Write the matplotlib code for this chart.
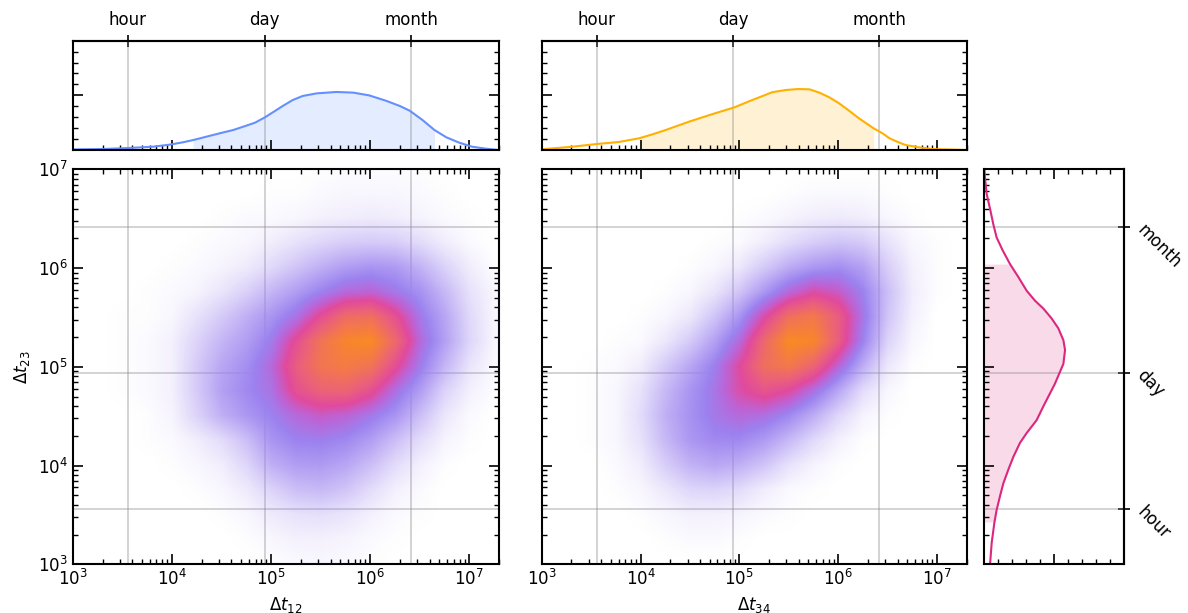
import numpy as np
import matplotlib
matplotlib.use("Agg")
import matplotlib.pyplot as plt
from matplotlib.colors import LinearSegmentedColormap
from matplotlib.ticker import MultipleLocator, NullLocator

# characteristic time scales (seconds)
HOUR, DAY, MONTH = 3600.0, 86400.0, 2592000.0
SCALE_TICKS = [HOUR, DAY, MONTH]
SCALE_LABELS = ["hour", "day", "month"]

XLIM = (1e3, 2e7)
YLIM = (1e3, 1e7)

# joint density grid, log10 nodes (cell centres)
GRID_LOG_X = [3.0, 3.25, 3.5, 3.75, 4.0, 4.25, 4.5, 4.75, 5.0, 5.25,
              5.5, 5.75, 6.0, 6.25, 6.5, 6.75, 7.0, 7.25]
GRID_LOG_Y = [7.0, 6.75, 6.5, 6.25, 6.0, 5.75, 5.5, 5.25, 5.0, 4.75,
              4.5, 4.25, 4.0, 3.75, 3.5, 3.25, 3.0]

# density of (dt12, dt23), rows top -> bottom
DENS_12_23 = [
    [0, 0, 0, 0, 0, 0, 0, 0, 0, 0, .01, .01, .01, .01, .01, 0, 0, 0],
    [0, 0, 0, 0, 0, 0, 0, 0, .01, .01, .02, .03, .03, .03, .02, .01, 0, 0],
    [0, 0, 0, 0, 0, 0, .01, .02, .02, .03, .05, .06, .07, .06, .04, .02, .01, 0],
    [0, 0, 0, 0, 0, .01, .02, .03, .06, .10, .14, .17, .18, .17, .12, .06, .02, 0],
    [0, 0, 0, 0, .01, .02, .04, .07, .13, .20, .27, .33, .36, .34, .26, .15, .06, .01],
    [0, 0, 0, .01, .02, .04, .09, .16, .25, .33, .42, .50, .52, .45, .37, .24, .10, .03],
    [0, 0, .01, .01, .03, .10, .18, .27, .36, .47, .65, .80, .82, .66, .45, .30, .13, .03],
    [0, 0, .01, .02, .05, .15, .25, .33, .44, .65, .85, .97, 1.0, .78, .50, .32, .14, .03],
    [0, 0, .01, .02, .05, .18, .30, .38, .50, .72, .86, .90, .85, .65, .44, .25, .09, .02],
    [0, 0, .01, .02, .05, .18, .32, .40, .47, .66, .75, .76, .66, .48, .33, .15, .05, .01],
    [0, 0, 0, .01, .04, .15, .27, .35, .42, .50, .55, .52, .45, .36, .22, .08, .02, 0],
    [0, 0, 0, .01, .02, .06, .12, .22, .36, .42, .43, .40, .33, .22, .12, .04, .01, 0],
    [0, 0, 0, 0, .01, .03, .06, .14, .27, .33, .34, .30, .22, .12, .05, .01, 0, 0],
    [0, 0, 0, 0, 0, .01, .03, .07, .15, .22, .24, .20, .12, .05, .02, 0, 0, 0],
    [0, 0, 0, 0, 0, 0, .01, .03, .07, .10, .11, .09, .05, .02, .01, 0, 0, 0],
    [0, 0, 0, 0, 0, 0, 0, .01, .03, .05, .05, .04, .02, .01, 0, 0, 0, 0],
    [0, 0, 0, 0, 0, 0, 0, 0, .01, .02, .03, .02, .01, 0, 0, 0, 0, 0],
]

# density of (dt34, dt23), rows top -> bottom
DENS_34_23 = [
    [0, 0, 0, 0, 0, 0, 0, 0, 0, 0, 0, 0, 0, 0, 0, 0, 0, 0],
    [0, 0, 0, 0, 0, 0, 0, 0, 0, 0, .01, .02, .02, .02, .01, 0, 0, 0],
    [0, 0, 0, 0, 0, 0, 0, 0, .01, .02, .04, .06, .07, .06, .03, .01, 0, 0],
    [0, 0, 0, 0, 0, 0, 0, .01, .02, .06, .12, .17, .20, .18, .10, .03, .01, 0],
    [0, 0, 0, 0, 0, 0, .01, .03, .08, .18, .28, .35, .38, .32, .17, .05, .01, 0],
    [0, 0, 0, 0, 0, .01, .03, .09, .20, .35, .50, .60, .55, .42, .22, .06, .01, 0],
    [0, 0, 0, 0, .01, .03, .08, .20, .36, .60, .82, .88, .72, .46, .20, .05, 0, 0],
    [0, 0, 0, .01, .02, .08, .18, .32, .50, .78, 1.0, .97, .72, .42, .15, .03, 0, 0],
    [0, 0, .01, .02, .06, .18, .30, .43, .62, .82, .88, .76, .52, .28, .08, .01, 0, 0],
    [0, 0, .01, .03, .10, .24, .36, .46, .60, .68, .62, .48, .30, .12, .03, 0, 0, 0],
    [0, 0, .01, .03, .12, .27, .37, .45, .50, .48, .40, .28, .14, .04, .01, 0, 0, 0],
    [0, 0, .01, .03, .10, .24, .35, .40, .40, .34, .24, .13, .05, .01, 0, 0, 0, 0],
    [0, 0, 0, .02, .06, .17, .26, .30, .27, .20, .10, .04, .01, 0, 0, 0, 0, 0],
    [0, 0, 0, .01, .03, .08, .14, .15, .12, .06, .02, .01, 0, 0, 0, 0, 0, 0],
    [0, 0, 0, 0, .01, .03, .05, .05, .04, .02, .01, 0, 0, 0, 0, 0, 0, 0],
    [0, 0, 0, 0, 0, .01, .02, .02, .01, 0, 0, 0, 0, 0, 0, 0, 0, 0],
    [0, 0, 0, 0, 0, 0, 0, 0, 0, 0, 0, 0, 0, 0, 0, 0, 0, 0],
]

# marginal densities per log10 unit
KDE12_LOG = [2.97, 3.31, 3.56, 3.81, 3.98, 4.11, 4.215, 4.35, 4.48, 4.62,
             4.72, 4.84, 4.94, 5.02, 5.12, 5.22, 5.32, 5.46, 5.66, 5.83,
             5.99, 6.16, 6.30, 6.40, 6.53, 6.65, 6.77, 6.90, 7.03, 7.17, 7.30]
KDE12_DENS = [0.005, 0.009, 0.018, 0.030, 0.049, 0.070, 0.091, 0.122, 0.152, 0.183,
              0.213, 0.250, 0.299, 0.345, 0.403, 0.457, 0.494, 0.518, 0.531, 0.525,
              0.500, 0.451, 0.403, 0.360, 0.274, 0.183, 0.116, 0.067, 0.030, 0.012, 0.0]
KDE12_BAND = (4.215, 6.65)

KDE34_LOG = [2.97, 3.31, 3.56, 3.78, 3.985, 4.12, 4.255, 4.49, 4.73, 4.95,
             5.13, 5.27, 5.33, 5.47, 5.60, 5.71, 5.81, 5.91, 6.01, 6.11,
             6.21, 6.36, 6.45, 6.52, 6.62, 6.68, 6.82, 6.95, 7.31]
KDE34_DENS = [0.004, 0.030, 0.055, 0.073, 0.107, 0.143, 0.183, 0.259, 0.329, 0.390,
              0.457, 0.506, 0.528, 0.549, 0.558, 0.555, 0.525, 0.482, 0.427, 0.360,
              0.290, 0.198, 0.152, 0.107, 0.067, 0.046, 0.024, 0.009, 0.0]
KDE34_BAND = (3.985, 6.36)

KDE23_LOG = [2.95, 3.0, 3.22, 3.39, 3.43, 3.55, 3.69, 3.82, 3.96, 4.09, 4.23,
             4.33, 4.46, 4.60, 4.73, 4.83, 4.95, 5.03, 5.17, 5.27, 5.39,
             5.49, 5.59, 5.67, 5.77, 5.91, 6.04, 6.18, 6.31, 6.44, 6.60,
             6.75, 6.91, 7.0]
KDE23_DENS = [0.040, 0.043, 0.055, 0.071, 0.075, 0.090, 0.114, 0.138, 0.174, 0.210, 0.257,
              0.305, 0.376, 0.424, 0.471, 0.507, 0.543, 0.567, 0.579, 0.567, 0.531,
              0.483, 0.424, 0.364, 0.305, 0.245, 0.186, 0.133, 0.090, 0.067, 0.043,
              0.019, 0.007, 0.003]
KDE23_BAND = (3.43, 6.04)

C_BLUE, C_GOLD, C_PINK = "#648FFF", "#FFB000", "#DC267F"

# transparent -> purple -> magenta -> salmon -> orange
cmap = LinearSegmentedColormap.from_list("joint", [
    (0.00, (0.62, 0.52, 0.94, 0.0)),
    (0.42, (0.61, 0.51, 0.94, 1.0)),
    (0.52, (0.74, 0.39, 0.84, 1.0)),
    (0.62, (0.88, 0.29, 0.62, 1.0)),
    (0.74, (0.92, 0.38, 0.48, 1.0)),
    (0.86, (0.95, 0.46, 0.32, 1.0)),
    (1.00, (0.98, 0.54, 0.14, 1.0)),
])

plt.rcParams.update({
    "font.family": "DejaVu Sans",
    "font.size": 12,
    "axes.linewidth": 1.5,
    "xtick.major.size": 7.5, "ytick.major.size": 7.5,
    "xtick.minor.size": 3.5, "ytick.minor.size": 3.5,
    "xtick.major.width": 1.2, "ytick.major.width": 1.2,
    "xtick.minor.width": 1.0, "ytick.minor.width": 1.0,
})

GRID_KW = dict(color="0.5", alpha=0.4, lw=1.2)

MAIN_H = [0.0794, 0.6444]
RECT_1 = [0.0612, MAIN_H[0], 0.3588, MAIN_H[1]]
RECT_2 = [0.4560, MAIN_H[0], 0.3577, MAIN_H[1]]

fig = plt.figure(figsize=(11.88, 6.13), dpi=100)
ax1 = fig.add_axes(RECT_1)
ax2 = fig.add_axes(RECT_2, sharey=ax1)
top1 = fig.add_axes([RECT_1[0], 0.7553, RECT_1[2], 0.1783], sharex=ax1)
top2 = fig.add_axes([RECT_2[0], 0.7553, RECT_2[2], 0.1783], sharex=ax2)
side = fig.add_axes([0.8283, MAIN_H[0], 0.1178, MAIN_H[1]], sharey=ax2)

# half-cell padding so pixel centres sit on the log10 nodes
hx = (GRID_LOG_X[1] - GRID_LOG_X[0]) / 2
hy = (GRID_LOG_Y[0] - GRID_LOG_Y[1]) / 2
extent = (GRID_LOG_X[0] - hx, GRID_LOG_X[-1] + hx,
          GRID_LOG_Y[-1] - hy, GRID_LOG_Y[0] + hy)

for ax, rect, dens, xlabel in ((ax1, RECT_1, DENS_12_23, r"$\Delta t_{12}$"),
                               (ax2, RECT_2, DENS_34_23, r"$\Delta t_{34}$")):
    ax.set_xscale("log")
    ax.set_yscale("log")
    for t in SCALE_TICKS:
        ax.axvline(t, zorder=0.5, **GRID_KW)
        ax.axhline(t, zorder=0.5, **GRID_KW)
    ax.set_xlim(*XLIM)
    ax.set_ylim(*YLIM)
    ax.tick_params(which="both", direction="in", top=True, right=True)
    ax.set_xlabel(xlabel)

    # heatmap in log10 units on an overlay, above the grid lines
    img_ax = fig.add_axes(rect, zorder=ax.get_zorder() + 1)
    img_ax.imshow(np.array(dens), extent=extent, origin="upper", cmap=cmap,
                  vmin=0, vmax=1, interpolation="bilinear", aspect="auto")
    img_ax.set_xlim(np.log10(XLIM[0]), np.log10(XLIM[1]))
    img_ax.set_ylim(np.log10(YLIM[0]), np.log10(YLIM[1]))
    img_ax.set_facecolor("none")
    img_ax.axis("off")

ax1.set_ylabel(r"$\Delta t_{23}$")
ax2.tick_params(labelleft=False)

# top marginals
for ax, lx, dy, band, col in ((top1, KDE12_LOG, KDE12_DENS, KDE12_BAND, C_BLUE),
                               (top2, KDE34_LOG, KDE34_DENS, KDE34_BAND, C_GOLD)):
    lx = np.array(lx)
    dy = np.array(dy)
    x = 10 ** lx
    inside = (lx >= band[0] - 1e-9) & (lx <= band[1] + 1e-9)
    ax.fill_between(x[inside], 0, dy[inside], color=col, alpha=0.17, lw=0, zorder=1)
    for t in SCALE_TICKS:
        ax.axvline(t, zorder=1.5, **GRID_KW)
    ax.plot(x, dy, color=col, lw=1.5, zorder=2)
    ax.set_ylim(0, 1)
    ax.yaxis.set_major_locator(MultipleLocator(0.5))
    ax.yaxis.set_minor_locator(MultipleLocator(0.1))
    ax.tick_params(which="both", direction="in", left=True, right=True,
                   top=False, labelbottom=False, labelleft=False)
    sec = ax.secondary_xaxis("top")
    sec.set_xticks(SCALE_TICKS, labels=SCALE_LABELS)
    sec.xaxis.set_minor_locator(NullLocator())
    sec.tick_params(direction="inout", length=9, width=1.2, pad=4)

# right marginal for dt23
ly = np.array(KDE23_LOG)
dx = np.array(KDE23_DENS)
y = 10 ** ly
inside = (ly >= KDE23_BAND[0] - 1e-9) & (ly <= KDE23_BAND[1] + 1e-9)
side.fill_betweenx(y[inside], 0, dx[inside], color=C_PINK, alpha=0.17, lw=0, zorder=1)
for t in SCALE_TICKS:
    side.axhline(t, zorder=1.5, **GRID_KW)
side.plot(dx, y, color=C_PINK, lw=1.5, zorder=2)
side.set_xlim(0, 1)
side.xaxis.set_major_locator(MultipleLocator(0.5))
side.xaxis.set_minor_locator(MultipleLocator(0.1))
side.tick_params(which="both", direction="in", top=True, bottom=True, left=True,
                 right=False, labelbottom=False, labelleft=False)
sec = side.secondary_yaxis("right")
sec.set_yticks(SCALE_TICKS, labels=SCALE_LABELS)
sec.yaxis.set_minor_locator(NullLocator())
sec.tick_params(direction="inout", length=9, width=1.2, pad=7)
for lab in sec.get_yticklabels():
    lab.set_rotation(-45)
    lab.set_rotation_mode("anchor")
    lab.set_ha("left")
    lab.set_va("center")

fig.savefig("out.png", dpi=100)
